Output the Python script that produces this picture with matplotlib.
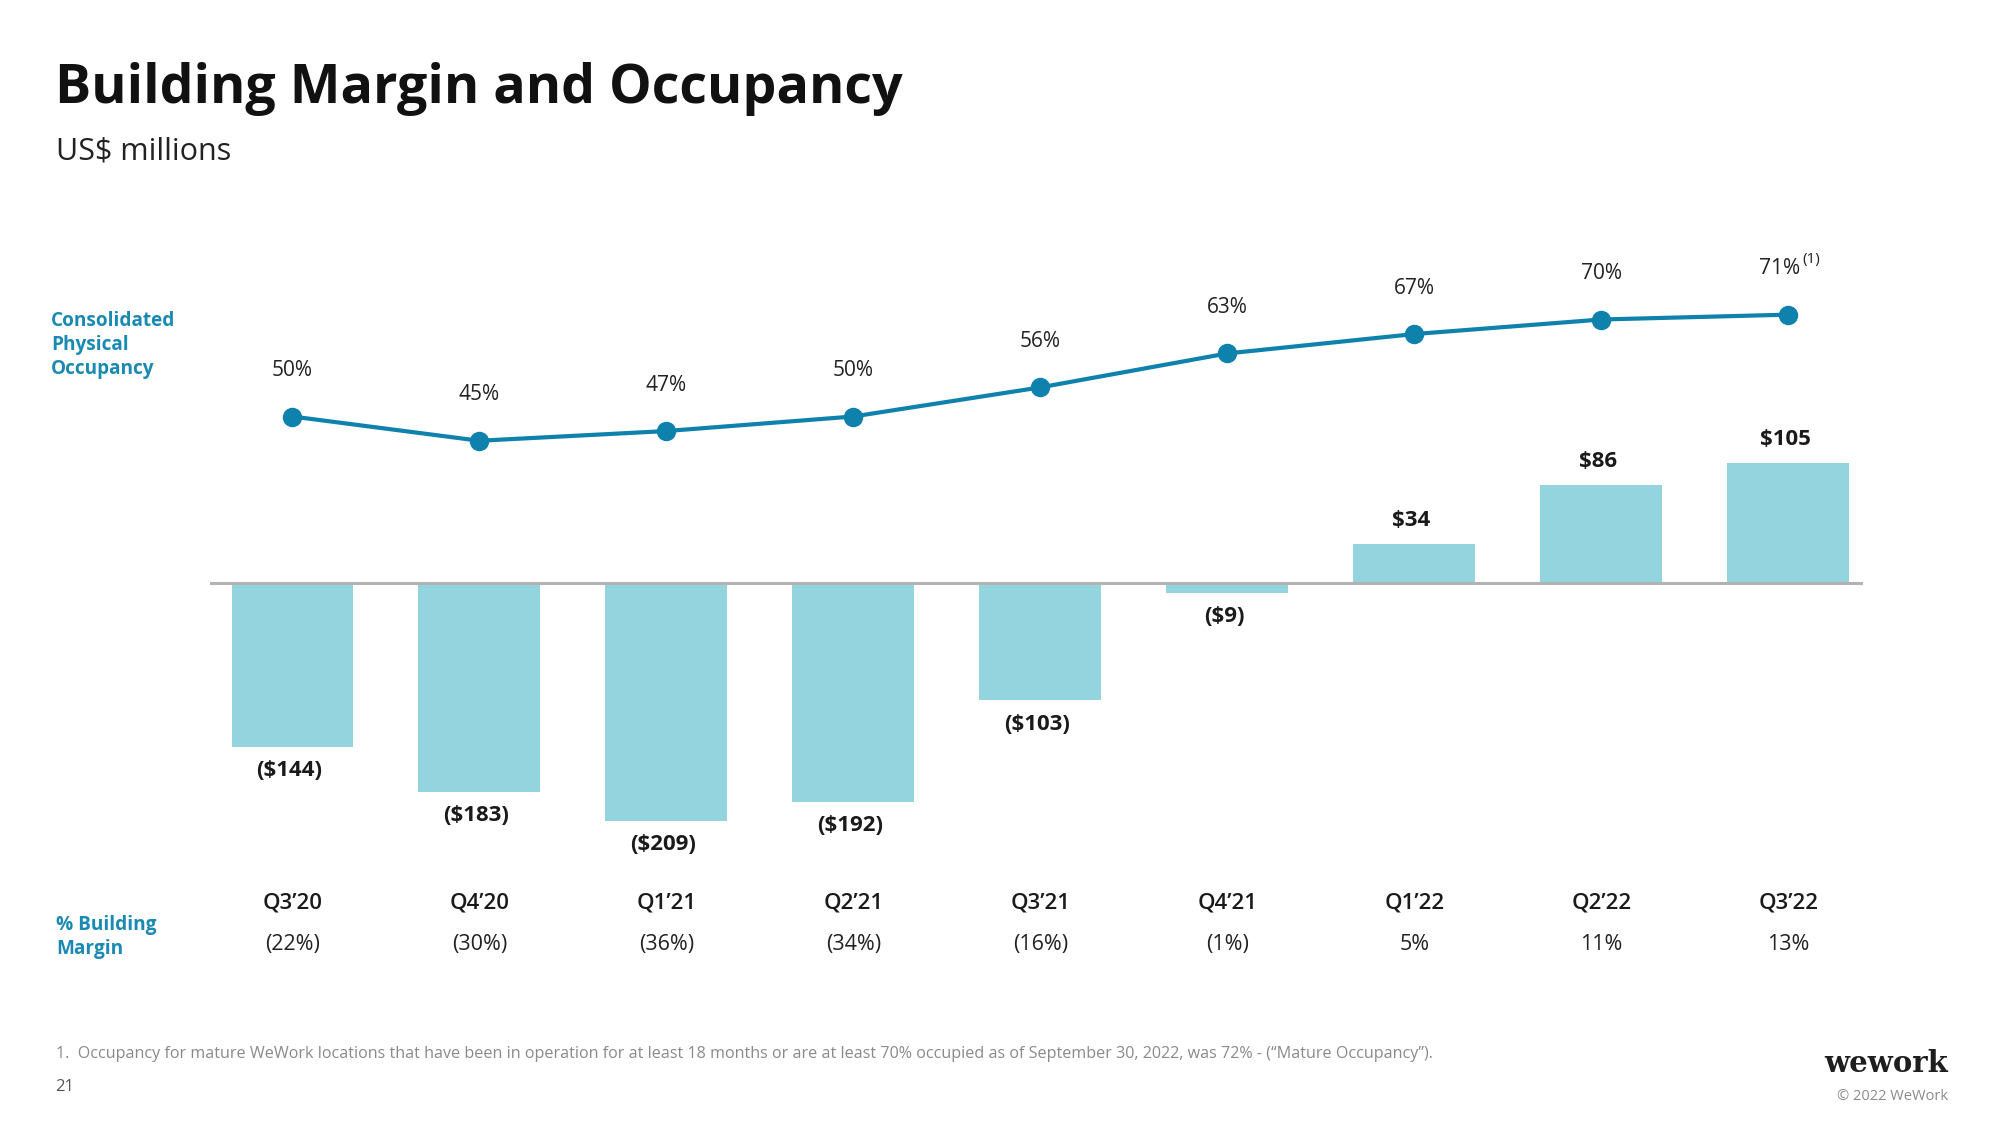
import matplotlib
matplotlib.use("Agg")
import matplotlib.pyplot as plt
import matplotlib.transforms as mtransforms

# ---- data ----
quarters = ["Q3\u201920", "Q4\u201920", "Q1\u201921", "Q2\u201921", "Q3\u201921",
            "Q4\u201921", "Q1\u201922", "Q2\u201922", "Q3\u201922"]
building_margin = [-144, -183, -209, -192, -103, -9, 34, 86, 105]
margin_pct = ["(22%)", "(30%)", "(36%)", "(34%)", "(16%)", "(1%)", "5%", "11%", "13%"]
occupancy = [50, 45, 47, 50, 56, 63, 67, 70, 71]

W, H = 2000, 1125
FONT = "Open Sans"
BAR_C = "#93d4df"
LINE_C = "#0e81ad"
TEAL = "#1a8ab2"
DARK = "#1a1a1a"

plt.rcParams["font.family"] = [FONT, "DejaVu Sans"]

fig = plt.figure(figsize=(W / 100, H / 100), dpi=100)
fig.patch.set_facecolor("white")


def fx(px):
    return px / W


def fy(py):
    return 1 - py / H


# axes spanning pixel x 210..1863, y 200..1000
ax_left, ax_right, ax_top, ax_bot = 210, 1863, 200, 1000
ax = fig.add_axes([fx(ax_left), fy(ax_bot), (ax_right - ax_left) / W, (ax_bot - ax_top) / H])
ax.set_xlim(-0.44, 8.40)
baseline_px = 583
px_per_unit = 1.14
ax.set_ylim((baseline_px - ax_bot) / px_per_unit, (baseline_px - ax_top) / px_per_unit)
ax.axis("off")

x = list(range(len(quarters)))
bars = ax.bar(x, building_margin, width=0.65, color=BAR_C, zorder=2)
ax.axhline(0, color="#b3b3b3", lw=2.2, zorder=3)

for xi, v in zip(x, building_margin):
    lab = f"(${-v})" if v < 0 else f"${v}"
    off = -17 if v < 0 else 17
    ax.annotate(lab, (xi, v), xytext=(-2, off), textcoords="offset points",
                ha="center", va="center", fontsize=16, fontweight="bold", color=DARK)

# line on twin axes
ax2 = ax.twinx()
ax2.set_xlim(ax.get_xlim())
a_px, b_px = 659, 4.85
ax2.set_ylim((a_px - ax_bot) / b_px, (a_px - ax_top) / b_px)
ax2.axis("off")
ax2.plot(x, occupancy, color=LINE_C, lw=3, marker="o", markersize=13, zorder=4)
for xi, v in zip(x, occupancy):
    dx = -6 if xi == len(x) - 1 else 0
    ax2.annotate(f"{v}%", (xi, v), xytext=(dx, 33), textcoords="offset points",
                 ha="center", va="center", fontsize=15, color="#222222")
ax2.annotate("(1)", (x[-1], occupancy[-1]), xytext=(10, 40), textcoords="offset points",
             ha="left", va="center", fontsize=11, color="#222222")

# category labels and margin %
trans = mtransforms.blended_transform_factory(ax.transData, fig.transFigure)
for xi, q, p in zip(x, quarters, margin_pct):
    fig.text(xi, fy(909), q, transform=trans, ha="center", va="baseline",
             fontsize=16, fontweight="semibold", color=DARK)
    fig.text(xi, fy(950), p, transform=trans, ha="center", va="baseline",
             fontsize=15.5, color="#222222")

# titles
fig.text(fx(55), fy(89), "Building Margin and Occupancy", ha="left", va="center",
         fontsize=38.7, fontweight="bold", color="#111111")
fig.text(fx(56), fy(152), "US$ millions", ha="left", va="center",
         fontsize=22, color="#222222")

fig.text(fx(51), fy(345), "Consolidated\nPhysical\nOccupancy", ha="left", va="center",
         fontsize=13.7, fontweight="bold", color=TEAL, linespacing=1.27)
fig.text(fx(56), fy(937), "% Building\nMargin", ha="left", va="center",
         fontsize=13.7, fontweight="bold", color=TEAL, linespacing=1.27)

fig.text(fx(56), fy(1054),
         "1.  Occupancy for mature WeWork locations that have been in operation for at least 18 months "
         "or are at least 70% occupied as of September 30, 2022, was 72% - (\u201cMature Occupancy\u201d).",
         ha="left", va="center", fontsize=11.6, color="#8a8a8a")
fig.text(fx(55), fy(1087), "21", ha="left", va="center", fontsize=12, color="#555555")

fig.text(fx(1948), fy(1063), "wework", ha="right", va="center", fontsize=21,
         fontweight="bold", family="DejaVu Serif", color="#1e1e1e")
fig.text(fx(1948), fy(1096), "\u00a9 2022 WeWork", ha="right", va="center",
         fontsize=10.5, color="#8a8a8a")

fig.savefig("out.png", dpi=100, facecolor="white")
